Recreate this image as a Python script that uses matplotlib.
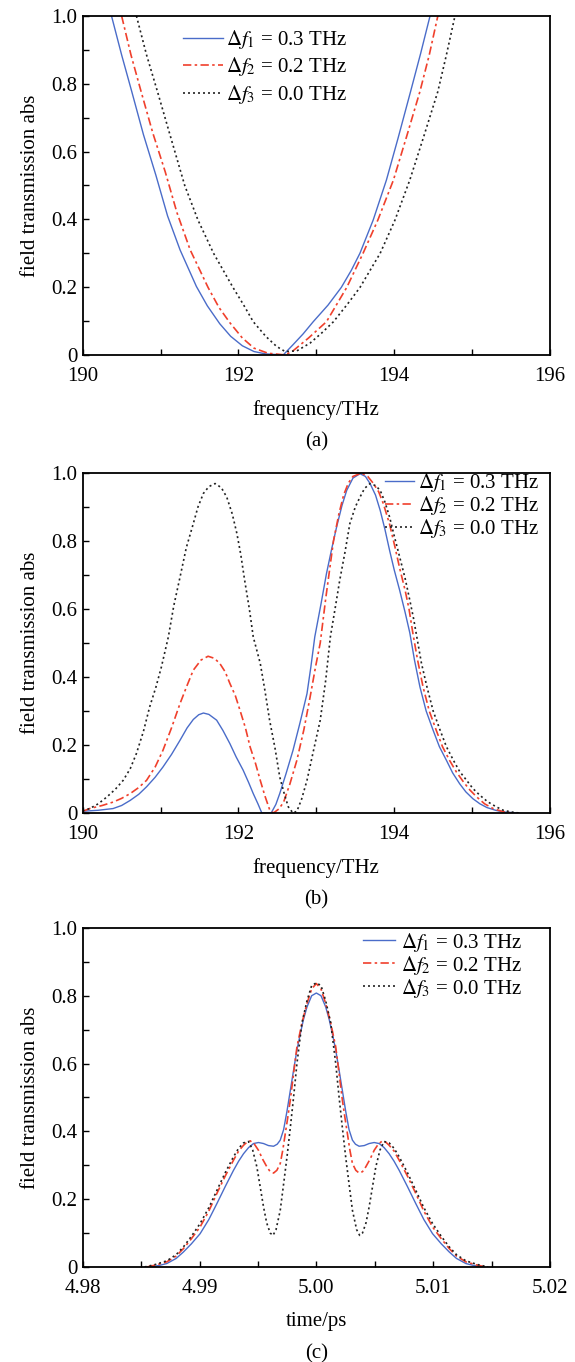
import matplotlib
matplotlib.use("Agg")
import matplotlib.pyplot as plt
from matplotlib.ticker import MultipleLocator


plt.rcParams.update({
    "font.family": "Liberation Serif",
    "mathtext.fontset": "stix",
    "font.size": 15,
    "axes.linewidth": 1.3,
    "xtick.direction": "in",
    "ytick.direction": "in",
})

labels = [r"$\Delta f_1$ = 0.3 THz", r"$\Delta f_2$ = 0.2 THz", r"$\Delta f_3$ = 0.0 THz"]
y_ticks = [0, 0.2, 0.4, 0.6, 0.8, 1.0]
y_ticklabels = ["0", "0.2", "0.4", "0.6", "0.8", "1.0"]
freq_ticks = [190, 192, 194, 196]
freq_ticklabels = ["190", "192", "194", "196"]
time_ticks = [4.98, 4.99, 5.00, 5.01, 5.02]
time_ticklabels = ["4.98", "4.99", "5.00", "5.01", "5.02"]

##############################################################
# (a) values
##############################################################

a_f1 = [190.37, 190.5, 190.63, 190.78, 190.94, 191.09, 191.25, 191.46, 191.6, 191.76,
        191.9, 192.05, 192.2, 192.35, 192.575, 192.7, 192.83, 192.96, 193.15, 193.32,
        193.45, 193.56, 193.73, 193.90, 194.05, 194.21, 194.34, 194.46]
a_v1 = [1.0, 0.885, 0.777, 0.65, 0.53, 0.41, 0.31, 0.202, 0.145, 0.092,
        0.055, 0.027, 0.01, 0.003, 0.0, 0.03, 0.062, 0.098, 0.147, 0.199,
        0.25, 0.30, 0.398, 0.516, 0.64, 0.777, 0.89, 1.0]

a_f2 = [190.50, 190.62, 190.75, 190.9, 191.06, 191.21, 191.38, 191.61, 191.75, 191.89,
        192.05, 192.2, 192.38, 192.6, 192.7, 192.9, 193.13, 193.39, 193.60, 193.79,
        193.99, 194.16, 194.33, 194.45, 194.56]
a_v2 = [1.0, 0.885, 0.777, 0.655, 0.54, 0.42, 0.31, 0.199, 0.14, 0.095,
        0.05, 0.02, 0.005, 0.0, 0.012, 0.05, 0.098, 0.199, 0.30, 0.398,
        0.516, 0.645, 0.777, 0.885, 1.0]

a_f3 = [190.69, 190.82, 190.96, 191.12, 191.31, 191.48, 191.68, 191.93, 192.06,
        192.19, 192.35, 192.49, 192.6, 192.75, 192.92, 193.07, 193.22, 193.4, 193.56,
        193.82, 194.01, 194.20, 194.38, 194.56, 194.67, 194.78]
a_v3 = [1.0, 0.885, 0.777, 0.65, 0.50, 0.398, 0.30, 0.199, 0.15,
        0.098, 0.055, 0.025, 0.01, 0.012, 0.035, 0.065, 0.098, 0.15, 0.199,
        0.30, 0.398, 0.516, 0.645, 0.777, 0.885, 1.0]

##############################################################
# (b) values
##############################################################

b_f1 = [190.0, 190.2, 190.39, 190.5, 190.61, 190.72, 190.82, 190.93, 191.03, 191.14,
        191.25, 191.34, 191.42, 191.49, 191.55, 191.62, 191.72, 191.80, 191.89, 191.97,
        192.06, 192.13, 192.19, 192.25, 192.30, 192.42, 192.48, 192.53, 192.61, 192.70,
        192.79, 192.88, 192.93, 192.98, 193.06, 193.13, 193.20, 193.26, 193.33, 193.39,
        193.47, 193.56, 193.63, 193.69, 193.76, 193.82, 193.88, 193.94, 194.0, 194.07,
        194.14, 194.20, 194.26, 194.33, 194.41, 194.50, 194.58, 194.67, 194.75, 194.84,
        194.92, 195.01, 195.10, 195.19, 195.30, 195.40, 195.6]
b_v1 = [0.005, 0.008, 0.013, 0.022, 0.037, 0.055, 0.077, 0.105, 0.135, 0.172,
        0.214, 0.25, 0.275, 0.289, 0.294, 0.29, 0.273, 0.243, 0.204, 0.165,
        0.126, 0.09, 0.057, 0.027, 0.0, 0.0, 0.025, 0.057, 0.115, 0.184,
        0.265, 0.351, 0.43, 0.518, 0.615, 0.704, 0.78, 0.841, 0.905, 0.949,
        0.985, 0.998, 0.99, 0.969, 0.935, 0.89, 0.835, 0.773, 0.715, 0.655,
        0.59, 0.53, 0.45, 0.371, 0.30, 0.243, 0.195, 0.155, 0.118, 0.086,
        0.062, 0.042, 0.027, 0.016, 0.008, 0.003, 0.0]

b_f2 = [190.0, 190.09, 190.25, 190.39, 190.5, 190.61, 190.72, 190.82, 190.93, 191.03,
        191.14, 191.25, 191.34, 191.42, 191.52, 191.61, 191.69, 191.76, 191.83, 191.89,
        191.96, 192.02, 192.09, 192.15, 192.22, 192.28, 192.34, 192.40, 192.45, 192.52,
        192.58, 192.66, 192.75, 192.84, 192.92, 192.99, 193.05, 193.12, 193.22, 193.29,
        193.35, 193.41, 193.47, 193.58, 193.66, 193.73, 193.8, 193.86, 193.94, 194.01,
        194.07, 194.14, 194.19, 194.24, 194.30, 194.37, 194.45, 194.54, 194.62, 194.71,
        194.80, 194.89, 194.97, 195.06, 195.16, 195.27, 195.38, 195.5]
b_v2 = [0.005, 0.013, 0.022, 0.032, 0.043, 0.057, 0.075, 0.096, 0.135, 0.184,
        0.25, 0.322, 0.375, 0.42, 0.45, 0.461, 0.455, 0.44, 0.415, 0.381,
        0.345, 0.302, 0.25, 0.194, 0.145, 0.096, 0.05, 0.01, 0.0, 0.012,
        0.032, 0.085, 0.155, 0.245, 0.341, 0.43, 0.50, 0.63, 0.80, 0.88,
        0.935, 0.97, 0.99, 1.0, 0.99, 0.97, 0.945, 0.91, 0.85, 0.782,
        0.72, 0.655, 0.60, 0.528, 0.45, 0.371, 0.30, 0.243, 0.195, 0.155,
        0.12, 0.091, 0.068, 0.047, 0.027, 0.013, 0.005, 0.0]

b_f3 = [190.0, 190.09, 190.2, 190.31, 190.42, 190.52, 190.61, 190.69, 190.78, 190.86,
        190.94, 191.01, 191.10, 191.17, 191.25, 191.33, 191.42, 191.48, 191.55, 191.62,
        191.70, 191.78, 191.85, 191.92, 191.98, 192.03, 192.08, 192.14, 192.19, 192.28,
        192.34, 192.40, 192.47, 192.53, 192.59, 192.64, 192.70, 192.75, 192.81, 192.88,
        192.96, 193.05, 193.12, 193.18, 193.24, 193.30, 193.37, 193.43, 193.50, 193.56,
        193.62, 193.69, 193.76, 193.82, 193.88, 193.94, 194.0, 194.07, 194.14, 194.20,
        194.25, 194.29, 194.35, 194.42, 194.50, 194.59, 194.67, 194.76, 194.84, 194.93,
        195.01, 195.10, 195.2, 195.31, 195.4, 195.5, 195.6]
b_v3 = [0.006, 0.013, 0.027, 0.047, 0.07, 0.096, 0.13, 0.175, 0.24, 0.312,
        0.37, 0.429, 0.518, 0.61, 0.694, 0.78, 0.851, 0.90, 0.94, 0.96,
        0.969, 0.957, 0.929, 0.88, 0.822, 0.76, 0.684, 0.60, 0.518, 0.44,
        0.36, 0.273, 0.19, 0.106, 0.055, 0.018, 0.0, 0.005, 0.04, 0.096,
        0.18, 0.273, 0.39, 0.518, 0.60, 0.684, 0.77, 0.851, 0.90, 0.929,
        0.955, 0.969, 0.963, 0.949, 0.915, 0.871, 0.815, 0.753, 0.69, 0.626,
        0.57, 0.518, 0.44, 0.371, 0.30, 0.243, 0.195, 0.155, 0.122, 0.096,
        0.072, 0.052, 0.033, 0.018, 0.008, 0.003, 0.0]

##############################################################
# (c) values
##############################################################

c_t1 = [4.9857, 4.9865, 4.9872, 4.988, 4.98862, 4.9893, 4.99005, 4.9908, 4.99149, 4.9922,
        4.99291, 4.99335, 4.99377, 4.9942, 4.99462, 4.99505, 4.99548, 4.9959, 4.99634, 4.99665,
        4.99691, 4.9972, 4.99749, 4.99777, 4.99805, 4.99834, 4.99863, 4.9989, 4.9992, 4.9996,
        5.0000, 5.0004, 5.0008, 5.0011, 5.00137, 5.00166, 5.00195, 5.00223, 5.00251, 5.0028,
        5.00309, 5.00335, 5.00366, 5.0041, 5.00452, 5.00495, 5.00538, 5.0058, 5.00623, 5.00665,
        5.00709, 5.0078, 5.00851, 5.0092, 5.00995, 5.0107, 5.01138, 5.012, 5.0128, 5.0135,
        5.0143]
c_v1 = [0.0, 0.004, 0.01, 0.025, 0.044, 0.068, 0.098, 0.14, 0.187, 0.237,
        0.285, 0.312, 0.334, 0.352, 0.364, 0.367, 0.364, 0.358, 0.356, 0.362,
        0.374, 0.405, 0.46, 0.52, 0.58, 0.64, 0.688, 0.73, 0.767, 0.80,
        0.808, 0.80, 0.767, 0.73, 0.688, 0.64, 0.58, 0.52, 0.46, 0.405,
        0.374, 0.362, 0.356, 0.358, 0.364, 0.367, 0.364, 0.352, 0.334, 0.312,
        0.285, 0.237, 0.187, 0.14, 0.098, 0.068, 0.044, 0.025, 0.01, 0.004,
        0.0]

c_t2 = [4.9855, 4.9863, 4.9872, 4.988, 4.98862, 4.9893, 4.99005, 4.9908, 4.99149, 4.9922,
        4.99291, 4.99335, 4.99377, 4.99406, 4.99434, 4.9947, 4.99505, 4.9954, 4.99577, 4.99605,
        4.99634, 4.99662, 4.99691, 4.99713, 4.99734, 4.99755, 4.99777, 4.99805, 4.99834, 4.99877,
        4.9992, 4.9996, 5.0000, 5.0004, 5.0008, 5.00123, 5.00166, 5.00195, 5.00223, 5.00245,
        5.00266, 5.00287, 5.00309, 5.00338, 5.00366, 5.00395, 5.00423, 5.0046, 5.00495, 5.0053,
        5.00566, 5.00594, 5.00623, 5.00665, 5.00709, 5.0078, 5.00851, 5.0092, 5.00995, 5.0107,
        5.01138, 5.012, 5.0128, 5.0137, 5.0145]
c_v2 = [0.0, 0.006, 0.015, 0.032, 0.054, 0.083, 0.118, 0.165, 0.217, 0.268,
        0.315, 0.342, 0.359, 0.368, 0.372, 0.362, 0.344, 0.318, 0.295, 0.281,
        0.277, 0.285, 0.305, 0.345, 0.393, 0.44, 0.492, 0.57, 0.649, 0.72,
        0.777, 0.82, 0.836, 0.82, 0.777, 0.72, 0.649, 0.57, 0.492, 0.44,
        0.393, 0.345, 0.305, 0.285, 0.277, 0.281, 0.295, 0.318, 0.344, 0.362,
        0.372, 0.368, 0.359, 0.342, 0.315, 0.268, 0.217, 0.165, 0.118, 0.083,
        0.054, 0.032, 0.015, 0.006, 0.0]

c_t3 = [4.9853, 4.9862, 4.9872, 4.988, 4.98862, 4.9893, 4.99005, 4.9908, 4.99149, 4.9922,
        4.99291, 4.99335, 4.99377, 4.9942, 4.99455, 4.99491, 4.9952, 4.99548, 4.99575, 4.99605,
        4.99629, 4.99655, 4.99691, 4.9972, 4.99749, 4.99777, 4.99805, 4.99834, 4.99877, 4.9992,
        4.9996, 5.0000, 5.0004, 5.0008, 5.00123, 5.00166, 5.00195, 5.00223, 5.00251, 5.0028,
        5.00309, 5.00345, 5.00371, 5.00395, 5.00425, 5.00452, 5.0048, 5.00509, 5.00545, 5.0058,
        5.00623, 5.00665, 5.00709, 5.0078, 5.00851, 5.0092, 5.00995, 5.0107, 5.01138, 5.012,
        5.0128, 5.0138, 5.0147]
c_v3 = [0.0, 0.007, 0.018, 0.036, 0.059, 0.09, 0.128, 0.175, 0.226, 0.278,
        0.325, 0.35, 0.366, 0.37, 0.345, 0.295, 0.235, 0.177, 0.13, 0.10,
        0.093, 0.11, 0.167, 0.245, 0.325, 0.41, 0.50, 0.60, 0.72, 0.785,
        0.83, 0.838, 0.83, 0.785, 0.72, 0.60, 0.50, 0.41, 0.325, 0.245,
        0.167, 0.11, 0.093, 0.10, 0.13, 0.177, 0.235, 0.295, 0.345, 0.37,
        0.366, 0.35, 0.325, 0.278, 0.226, 0.175, 0.128, 0.09, 0.059, 0.036,
        0.018, 0.007, 0.0]


BLUE = "#4a6cc9"
RED = "#f0402c"
BLACK = "#222222"


def draw_curves(ax, xs, ys):
    ax.plot(xs[0], ys[0], color=BLUE, lw=1.0, label=labels[0])
    ax.plot(xs[1], ys[1], color=RED, lw=1.2, dashes=(5, 2, 1.5, 2), label=labels[1])
    ax.plot(xs[2], ys[2], color=BLACK, lw=1.2, dashes=(1.2, 1.8), label=labels[2])


def style_axes(ax, ticks, ticklabels, minor, xlabel, tag):
    ax.set_xlim(ticks[0], ticks[-1])
    ax.set_ylim(0, 1.0)
    ax.set_xticks(ticks)
    ax.set_xticklabels(ticklabels)
    ax.set_yticks(y_ticks)
    ax.set_yticklabels(y_ticklabels)
    ax.xaxis.set_minor_locator(MultipleLocator(minor))
    ax.yaxis.set_minor_locator(MultipleLocator(0.1))
    ax.tick_params(axis="both", which="both", length=4, width=1,
                   top=False, right=False)
    ax.tick_params(axis="x", which="major", pad=9)
    ax.tick_params(axis="y", which="major", pad=4)
    ax.set_xlabel(xlabel, labelpad=10)
    ax.set_ylabel("field transmission abs", labelpad=8)
    ax.text(0.5, -0.255, tag, transform=ax.transAxes, ha="center", va="center")


fig = plt.figure(figsize=(5.75, 13.62), dpi=100)

left, width = 0.1438, 0.8127
ax_a = fig.add_axes([left, 0.7394, width, 0.2489])
ax_b = fig.add_axes([left, 0.4031, width, 0.2496])
ax_c = fig.add_axes([left, 0.0698, width, 0.2489])

##############################################################
# (a)
##############################################################

draw_curves(ax_a, [a_f1, a_f2, a_f3], [a_v1, a_v2, a_v3])
style_axes(ax_a, freq_ticks, freq_ticklabels, 1, "frequency/THz", "(a)")
ax_a.legend(loc="upper left", bbox_to_anchor=(0.2146, 0.965), frameon=False,
            borderpad=0, borderaxespad=0, handlelength=1.9, handletextpad=0.15,
            labelspacing=0.22)

##############################################################
# (b)
##############################################################

draw_curves(ax_b, [b_f1, b_f2, b_f3], [b_v1, b_v2, b_v3])
style_axes(ax_b, freq_ticks, freq_ticklabels, 1, "frequency/THz", "(b)")
ax_b.legend(loc="upper left", bbox_to_anchor=(0.647, 1.005), frameon=False,
            borderpad=0, borderaxespad=0, handlelength=1.4, handletextpad=0.2,
            labelspacing=0.0)

##############################################################
# (c)
##############################################################

draw_curves(ax_c, [c_t1, c_t2, c_t3], [c_v1, c_v2, c_v3])
style_axes(ax_c, time_ticks, time_ticklabels, 0.005, "time/ps", "(c)")
ax_c.legend(loc="upper left", bbox_to_anchor=(0.60, 0.992), frameon=False,
            borderpad=0, borderaxespad=0, handlelength=1.55, handletextpad=0.25,
            labelspacing=0.0)

fig.savefig("out.png", dpi=100)
plt.close(fig)
